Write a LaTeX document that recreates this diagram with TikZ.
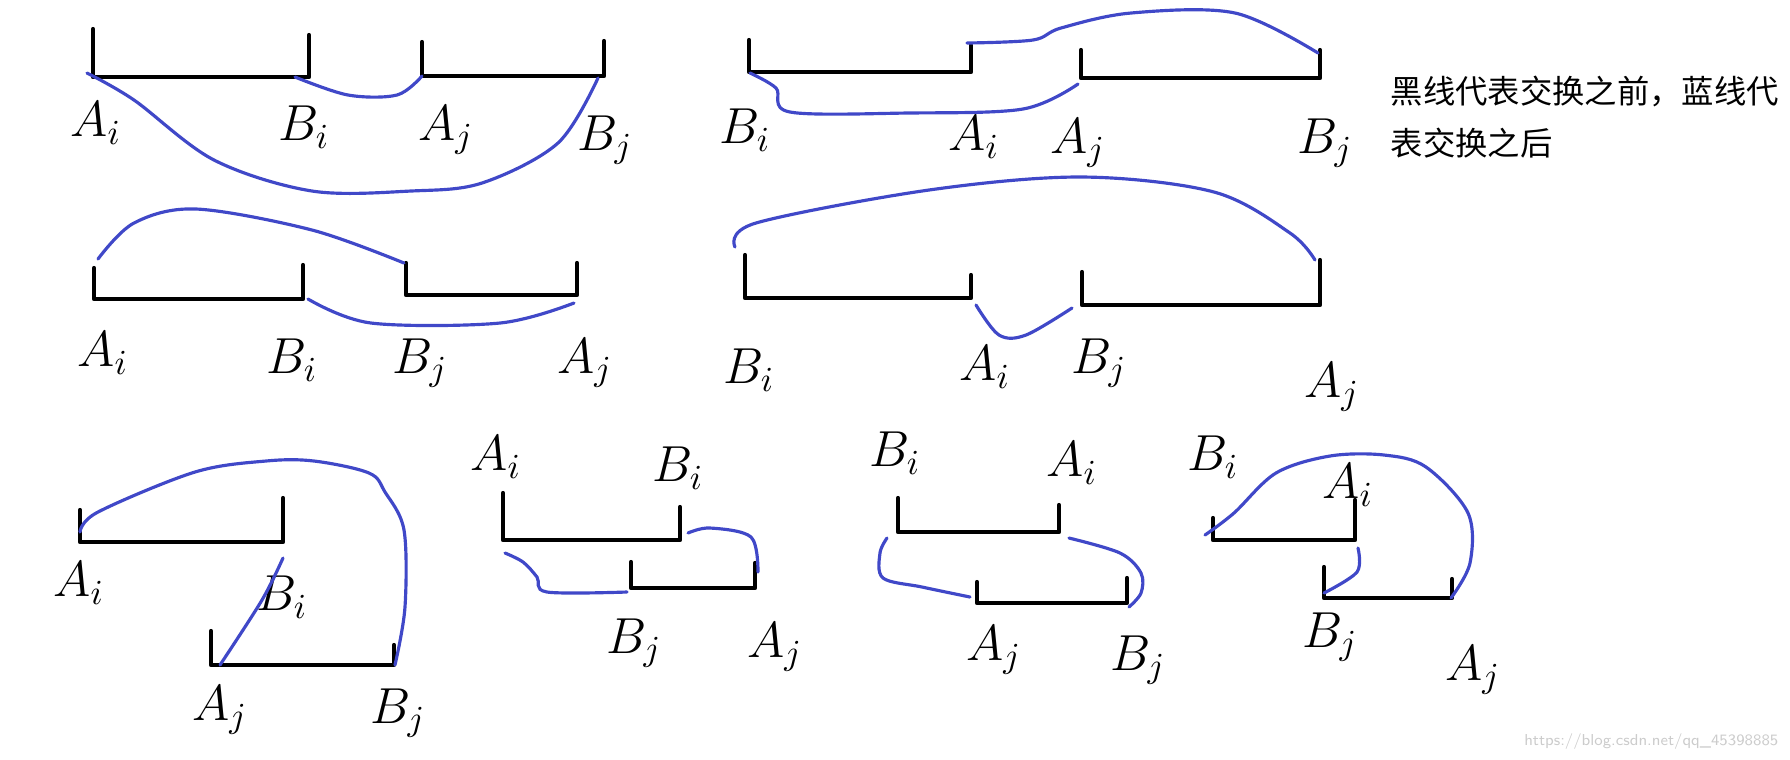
\documentclass[tikz,border=0pt]{standalone}
\usepackage{fontspec}
\newfontfamily\cjk{Noto Sans CJK SC}
\definecolor{pen}{HTML}{4048C8}
\tikzset{
  seg/.style={line width=1.2pt, line cap=round, line join=round},
  swap/.style={pen, line width=0.9pt, line cap=round, smooth, tension=0.55},
  lbl/.style={font=\fontsize{14}{16}\selectfont},
}
\begin{document}
\begin{tikzpicture}[x=0.01cm, y=-0.01cm]
\useasboundingbox (0,0) rectangle (1790,759);
% black segments: left tick x / top, right tick x / top, baseline y
\foreach \xa/\ta/\xb/\tb/\y in {93/29/309/35/77, 422/42/604/41/76,
  94/268/303/265/299, 406/263/577/263/295,
  749/40/971/45/72, 1081/50/1320/50/78,
  745/255/971/275/298, 1082/272/1320/260/305,
  80/510/283/498/542, 211/631/394/645/665,
  503/493/680/507/540, 631/562/755/563/588,
  898/498/1059/505/532, 977/582/1127/578/603,
  1213/518/1355/500/540, 1324/567/1452/579/598}
  {\draw[seg] (\xa,\ta) -- (\xa,\y) -- (\xb,\y) -- (\xb,\tb);}
% end point labels
\foreach \n/\x/\y/\t in {p1ai/96/123/A_i, p1bi/304/127/B_i, p1aj/446/130/A_j, p1bj/605/140/B_j,
  p2ai/103/353/A_i, p2bi/292/360/B_i, p2bj/420/363/B_j, p2aj/585/363/A_j,
  p3bi/745/130/B_i, p3ai/974/137/A_i, p3aj/1078/143/A_j, p3bj/1325/143/B_j,
  p4bi/749/370/B_i, p4ai/985/367/A_i, p4bj/1099/363/B_j, p4aj/1332/387/A_j,
  p5ai/79/583/A_i, p5bi/282/597/B_i, p5aj/220/710/A_j, p5bj/398/713/B_j,
  p6ai/496/457/A_i, p6bi/678/468/B_i, p6bj/634/643/B_j, p6aj/775/647/A_j,
  p7bi/895/453/B_i, p7ai/1072/463/A_i, p7aj/994/650/A_j, p7bj/1138/660/B_j,
  p8bi/1213/457/B_i, p8ai/1348/485/A_i, p8bj/1330/637/B_j, p8aj/1473/670/A_j}
  {\node[lbl] (\n) at (\x,\y) {$\t$};}
% blue lines after the swap
\draw[swap] plot coordinates {(87,73) (134,100) (214,160) (312,191) (411,191) (482,183) (558,143) (598,78)};
\draw[swap] plot coordinates {(295,77) (348,95) (397,95) (422,76)};
\draw[swap] plot coordinates {(98,259) (134,223) (196,209) (312,230) (404,263)};
\draw[swap] plot coordinates {(308,299) (371,323) (500,323) (574,303)};
\draw[swap] plot coordinates {(750,73) (776,88) (790,112) (908,113) (1023,109) (1078,84)};
\draw[swap] plot coordinates {(967,43) (1033,40) (1061,28) (1131,13) (1235,13) (1318,53)};
\draw[swap] plot coordinates {(735,247) (756,223) (929,190) (1082,177) (1214,192) (1290,233) (1315,260)};
\draw[swap] plot coordinates {(976,305) (999,335) (1026,335) (1072,308)};
\draw[swap] plot coordinates {(80,532) (98,512) (195,472) (266,461) (314,461) (369,473) (385,492) (404,530) (405,607) (395,665)};
\draw[swap] plot coordinates {(283,558) (262,600) (220,665)};
\draw[swap] plot coordinates {(505,553) (523,562) (537,577) (547,592) (627,592)};
\draw[swap] plot coordinates {(688,533) (710,528) (751,537) (758,572)};
\draw[swap] plot coordinates {(887,538) (880,553) (883,578) (922,587) (970,597)};
\draw[swap] plot coordinates {(1069,538) (1120,553) (1141,573) (1141,593) (1129,607)};
\draw[swap] plot coordinates {(1205,535) (1234,513) (1276,473) (1330,456) (1384,455) (1426,467) (1468,513) (1470,563) (1451,598)};
\draw[swap] plot coordinates {(1358,548) (1357,572) (1324,593)};
% legend
\node[anchor=west, inner sep=0pt, font=\cjk\fontsize{9.2}{11}\selectfont] (note1) at (1390,91) {黑线代表交换之前，蓝线代};
\node[anchor=west, inner sep=0pt, font=\cjk\fontsize{9.2}{11}\selectfont] (note2) at (1390,143) {表交换之后};
\node[anchor=east, inner sep=0pt, text=black!20, font=\sffamily\fontsize{4.5}{5}\selectfont] (mark) at (1779,742) {https://blog.csdn.net/qq\_45398885};
\end{tikzpicture}
\end{document}
